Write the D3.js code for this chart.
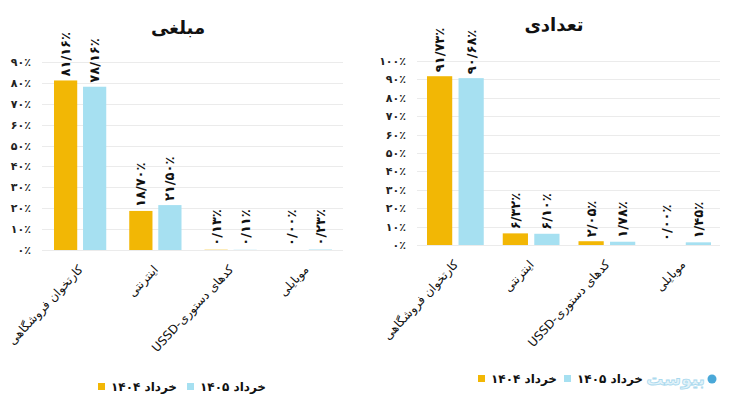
<!DOCTYPE html>
<html>
<head>
<meta charset="utf-8">
<script src="https://cdn.jsdelivr.net/npm/d3@7"></script>
<style>
  body { margin: 0; background: #fff; }
  svg { display: block; font-family: "DejaVu Sans", sans-serif; }
</style>
</head>
<body>
<div id="chart"></div>
<script>
const categories = ["کارتخوان فروشگاهی", "اینترنتی", "کدهای دستوری-USSD", "موبایلی"];
const series = ["خرداد ۱۴۰۴", "خرداد ۱۴۰۵"];
const colors = ["#f2b705", "#a6e0f1"];

// مبلغی
const amount1404 = [81.16, 18.70, 0.13, 0.00];
const amount1405 = [78.16, 21.50, 0.11, 0.23];
const amountTicks = [0, 10, 20, 30, 40, 50, 60, 70, 80, 90];

// تعدادی
const count1404 = [91.73, 6.32, 2.05, 0.00];
const count1405 = [90.68, 6.10, 1.78, 1.45];
const countTicks = [0, 10, 20, 30, 40, 50, 60, 70, 80, 90, 100];

const width = 735, height = 407;

const faDigits = s => s.replace(/\d/g, d => "۰۱۲۳۴۵۶۷۸۹"[d]);
const fmtValue = v => faDigits(v.toFixed(2).replace(".", "/")) + "٪";
const fmtTick = v => faDigits(String(v)) + "٪";

const svg = d3.select("#chart").append("svg")
  .attr("width", width)
  .attr("height", height);

function drawChart(opts) {
  const g = svg.append("g");
  const maxTick = opts.ticks[opts.ticks.length - 1];

  const x0 = d3.scaleBand()
    .domain(categories)
    .range([opts.left, opts.right]);

  const x1 = d3.scaleBand()
    .domain(series)
    .range([opts.pad, x0.bandwidth() - opts.pad + 1])
    .paddingInner(0.2);

  const y = d3.scaleLinear()
    .domain([0, maxTick])
    .range([opts.bottom, opts.top]);

  // grid
  g.append("g")
    .selectAll("line")
    .data(opts.ticks)
    .join("line")
      .attr("x1", opts.left)
      .attr("x2", opts.right)
      .attr("y1", d => Math.round(y(d)) + 0.5)
      .attr("y2", d => Math.round(y(d)) + 0.5)
      .attr("stroke", "#ebebeb");

  // y axis labels
  const yAxis = d3.axisLeft(y)
    .tickValues(opts.ticks)
    .tickFormat(fmtTick)
    .tickSize(0)
    .tickPadding(0);

  g.append("g")
    .attr("transform", `translate(${opts.axisX},0)`)
    .call(yAxis)
    .call(a => a.select(".domain").remove())
    .call(a => a.selectAll("text")
      .attr("font-family", "DejaVu Sans")
      .attr("font-size", 11)
      .attr("font-weight", "bold")
      .attr("fill", "#222"));

  // bars
  const rows = categories.map((c, i) => ({
    cat: c,
    vals: series.map((s, j) => ({ s, j, v: opts.data[j][i] }))
  }));

  const groups = g.append("g")
    .selectAll("g")
    .data(rows)
    .join("g")
      .attr("transform", d => `translate(${x0(d.cat)},0)`);

  groups.selectAll("rect")
    .data(d => d.vals)
    .join("rect")
      .attr("x", d => x1(d.s))
      .attr("y", d => y(d.v))
      .attr("width", x1.bandwidth())
      .attr("height", d => opts.bottom - y(d.v))
      .attr("fill", d => colors[d.j]);

  groups.selectAll("text")
    .data(d => d.vals)
    .join("text")
      .attr("transform", d => `translate(${x1(d.s) + x1.bandwidth() / 2},${y(d.v) - 4}) rotate(-90)`)
      .attr("dy", "0.35em")
      .attr("text-anchor", "start")
      .attr("font-size", 13)
      .attr("font-weight", "bold")
      .attr("fill", "#111")
      .text(d => fmtValue(d.v));

  // category labels
  g.append("g")
    .selectAll("text")
    .data(categories)
    .join("text")
      .attr("transform", d => `translate(${x0(d) + x0.bandwidth() / 2 + 4},${opts.bottom + 20}) rotate(-47)`)
      .attr("direction", "rtl")
      .attr("text-anchor", "start")
      .attr("font-size", 12)
      .attr("fill", "#111")
      .text(d => d);

  // title
  g.append("text")
    .attr("x", opts.titleX)
    .attr("y", opts.titleY)
    .attr("text-anchor", "middle")
    .attr("font-size", 18)
    .attr("font-weight", "bold")
    .attr("fill", "#111")
    .text(opts.title);

  // legend
  const legend = g.append("g")
    .attr("transform", `translate(${opts.legendX},${opts.legendY})`);

  const item = legend.selectAll("g")
    .data(series)
    .join("g")
      .attr("transform", (d, i) => `translate(${i * opts.legendStep},0)`);

  item.append("rect")
    .attr("x", 0)
    .attr("y", -4)
    .attr("width", 7)
    .attr("height", 7)
    .attr("fill", (d, i) => colors[i]);

  item.append("text")
    .attr("x", 13)
    .attr("dy", "0.35em")
    .attr("font-size", 12)
    .attr("font-weight", "bold")
    .attr("fill", "#111")
    .text(d => d);

  return legend;
}

drawChart({
  title: "مبلغی",
  data: [amount1404, amount1405],
  ticks: amountTicks,
  left: 42, right: 343, top: 62, bottom: 250,
  pad: 12, axisX: 31,
  titleX: 178, titleY: 34,
  legendX: 98, legendY: 387, legendStep: 89
});

const legendRight = drawChart({
  title: "تعدادی",
  data: [count1404, count1405],
  ticks: countTicks,
  left: 417, right: 720, top: 61, bottom: 245,
  pad: 10, axisX: 406,
  titleX: 554, titleY: 31,
  legendX: 478, legendY: 379, legendStep: 86
});

// watermark
legendRight.append("text")
  .attr("x", 227)
  .attr("dy", "0.35em")
  .attr("text-anchor", "end")
  .attr("font-size", 17)
  .attr("font-weight", "bold")
  .attr("fill", "#e3f3fa")
  .attr("stroke", "#a9d9ee")
  .attr("stroke-width", 0.8)
  .text("بیوست");

legendRight.append("circle")
  .attr("cx", 234)
  .attr("cy", 0)
  .attr("r", 4.5)
  .attr("fill", "#4aa8d8");
</script>
</body>
</html>
